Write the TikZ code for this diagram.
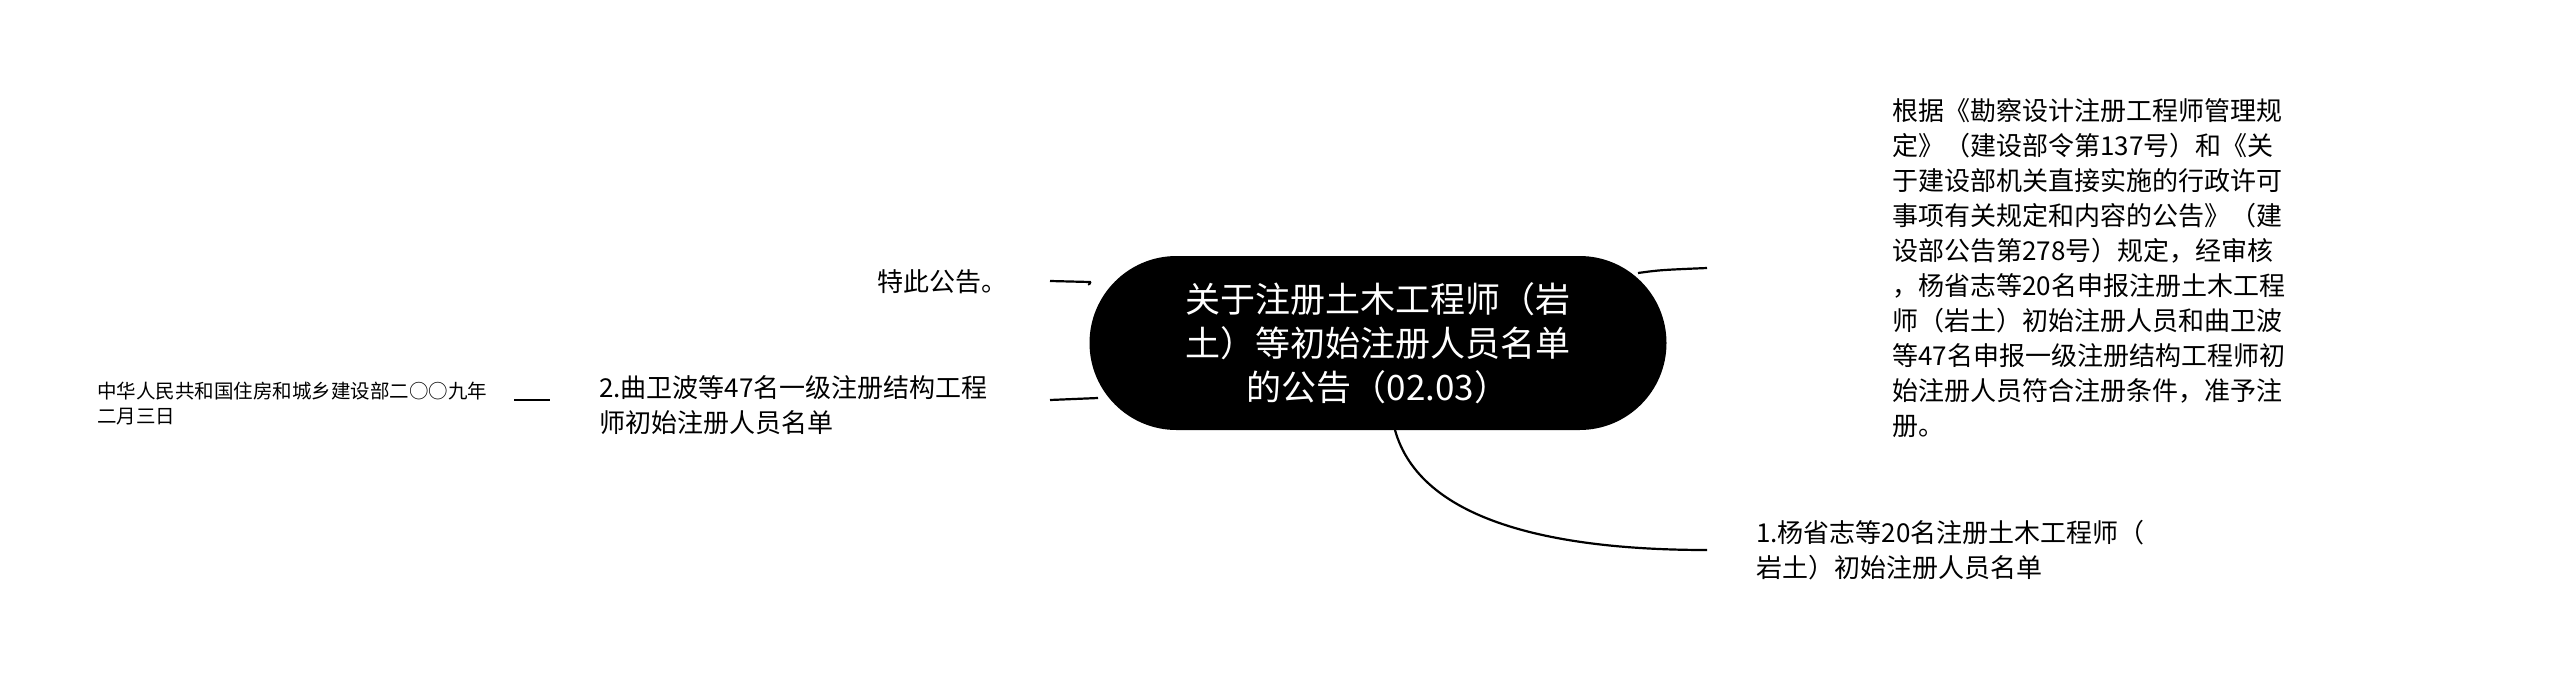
\documentclass[tikz,border=0pt]{standalone}
\usepackage{fontspec}
\setmainfont{Noto Sans CJK SC}
\begin{document}
\begin{tikzpicture}[x=1pt,y=-1pt,
  txt/.style={inner sep=0pt,align=left,font=\fontsize{26}{35}\selectfont},
  conn/.style={line width=2.2pt,black}]
\useasboundingbox (0,0) rectangle (2560,683);
\node[fill=black,rounded corners=87pt,minimum width=577pt,minimum height=174pt,text=white,align=center,font=\fontsize{35}{44}\selectfont] (c) at (1378,343) {关于注册土木工程师（岩\\土）等初始注册人员名单\\的公告（02.03）};
\node[txt,anchor=east] (a) at (1008,282) {特此公告。};
\node[txt,anchor=west] (b) at (599,405) {2.曲卫波等47名一级注册结构工程\\师初始注册人员名单};
\node[inner sep=0pt,align=left,anchor=west,font=\fontsize{19.5}{25}\selectfont] (d) at (97,404) {中华人民共和国住房和城乡建设部二○○九年\\二月三日};
\node[txt,anchor=north west] (r) at (1892,98) {根据《勘察设计注册工程师管理规\\定》（建设部令第137号）和《关\\于建设部机关直接实施的行政许可\\事项有关规定和内容的公告》（建\\设部公告第278号）规定，经审核\\，杨省志等20名申报注册土木工程\\师（岩土）初始注册人员和曲卫波\\等47名申报一级注册结构工程师初\\始注册人员符合注册条件，准予注\\册。};
\node[txt,anchor=west] (e) at (1756,550) {1.杨省志等20名注册土木工程师（\\岩土）初始注册人员名单};
\coordinate (ra) at (1707,268);
\coordinate (ea) at (1707,550);
\draw[conn] (1050,281) -- (1090,282) to[out=0,in=180] (c.west|-0,285);
\draw[conn] (1050,400) -- (1098,398);
\draw[conn] (514,400) -- (550,400);
\draw[conn] (1638,273) .. controls (1660,270) .. (ra);
\draw[conn] (1395,430) .. controls (1420,520) and (1550,550) .. (ea);
\end{tikzpicture}
\end{document}
